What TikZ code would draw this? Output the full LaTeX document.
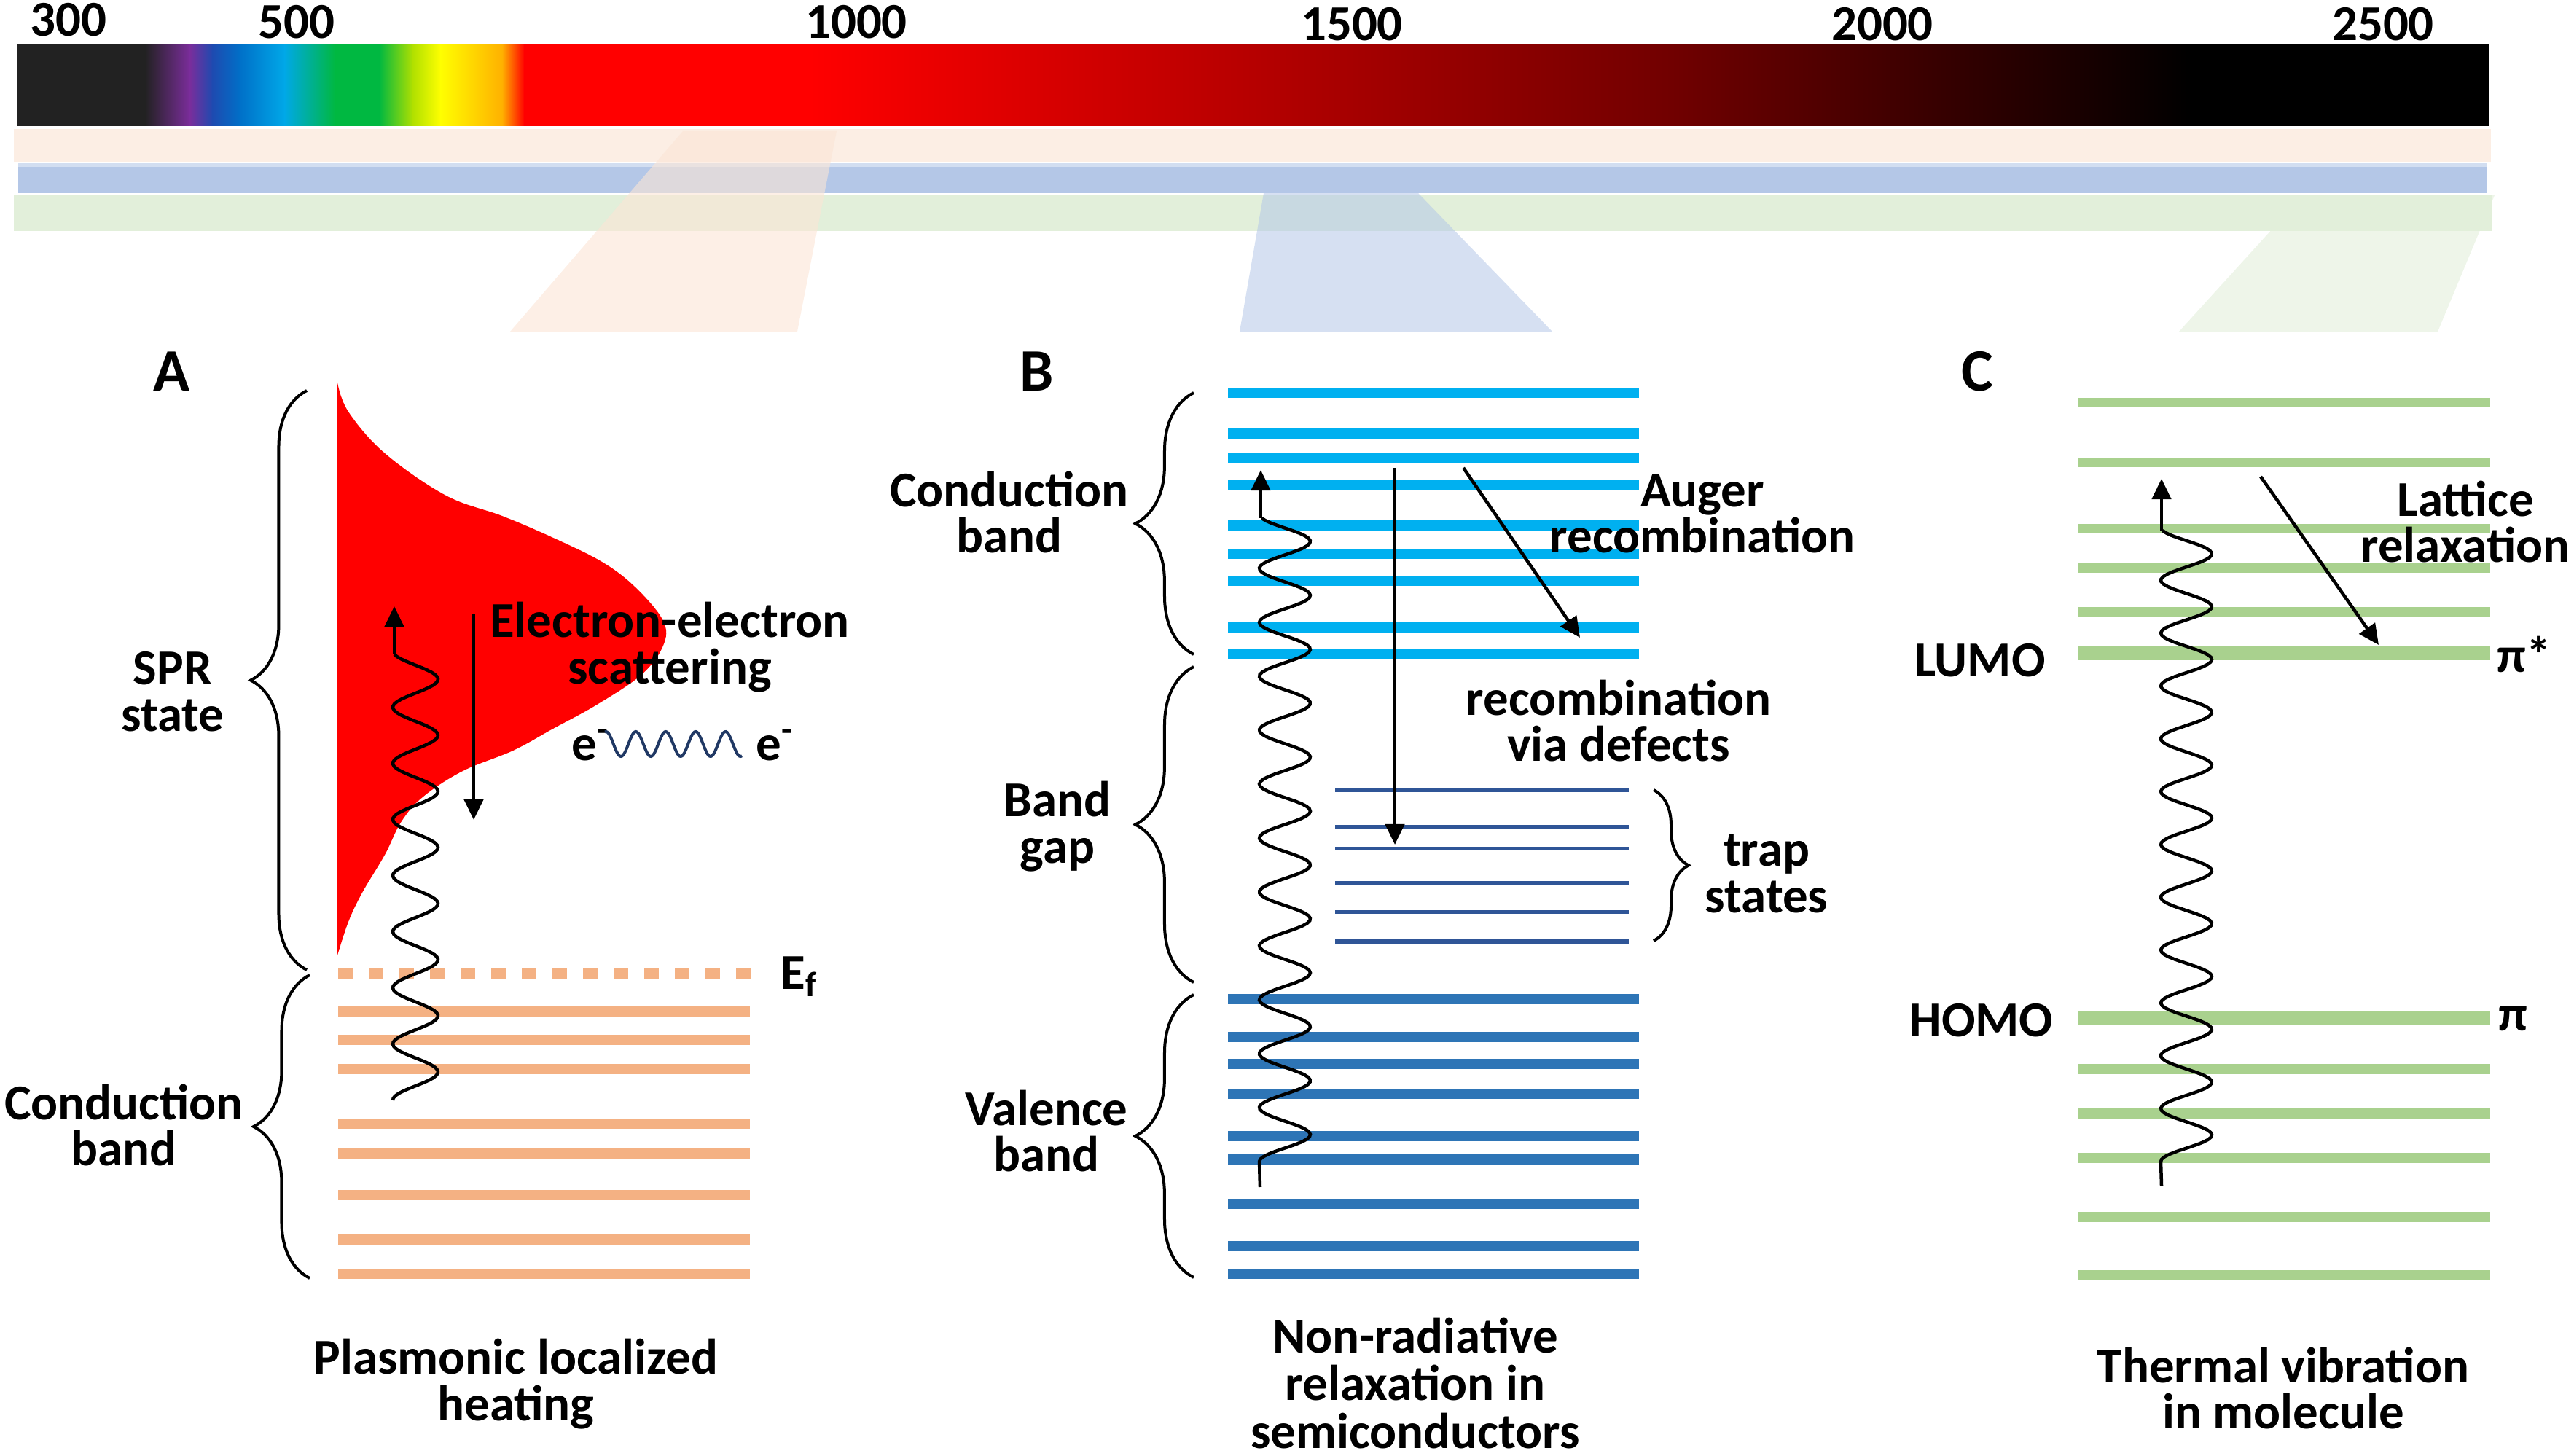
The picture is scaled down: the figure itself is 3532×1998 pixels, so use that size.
\documentclass[tikz,border=0pt]{standalone}
\usepackage{fontspec}
\setmainfont{Carlito}
\usepackage{tikz}
\usetikzlibrary{arrows.meta, decorations.pathreplacing, positioning}

\definecolor{spDark}{HTML}{222222}
\definecolor{spViolet}{HTML}{7B2D9B}
\definecolor{spBlue}{HTML}{1E4AB0}
\definecolor{spBlueB}{HTML}{0070C8}
\definecolor{spCyan}{HTML}{00A8E8}
\definecolor{spGreen}{HTML}{00B841}
\definecolor{spLime}{HTML}{B0E000}
\definecolor{spYellow}{HTML}{FFFF00}
\definecolor{spOrange}{HTML}{FFB000}
\definecolor{spRed}{HTML}{FF0000}
\definecolor{spMaroon}{HTML}{700000}
\definecolor{spBlack}{HTML}{000000}
\definecolor{stripPeach}{HTML}{FCEEE4}
\definecolor{stripBlue}{HTML}{B4C7E7}
\definecolor{stripBlueTop}{HTML}{D2DEF1}
\definecolor{stripGreen}{HTML}{E2EFDA}
\definecolor{fanPeach}{HTML}{FBE5D6}
\definecolor{lvlOrange}{HTML}{F4B183}
\definecolor{lvlCyan}{HTML}{00B0F0}
\definecolor{lvlBlue}{HTML}{2E75B6}
\definecolor{lvlTrap}{HTML}{2F5597}
\definecolor{lvlGreen}{HTML}{A9D18E}
\definecolor{waveNavy}{HTML}{203864}

\tikzset{
  lbl/.style={font=\fontsize{19.6}{18.1}\selectfont\bfseries, align=center, inner sep=0pt},
  tick/.style={font=\fontsize{19.6}{18.1}\selectfont\bfseries, inner sep=0pt},
  panel/.style={font=\fontsize{23.5}{24}\selectfont\bfseries, inner sep=0pt},
  lvl/.style={line width=0.14cm},
  brc/.style={decorate, decoration={brace, amplitude=#1}, line width=0.04cm},
  brc/.default=0.8cm,
  arr/.style={-{Triangle[length=0.28cm, width=0.26cm]}, line width=0.045cm},
  wave/.style={line width=0.045cm},
}

\begin{document}
\begin{tikzpicture}[x=0.01cm, y=-0.01cm]
    \useasboundingbox (0,0) rectangle (3532,1998);

    % 1. Spectrum bar with wavelength ticks
    \foreach \xa/\xb/\ca/\cb in {23/199/spDark/spDark, 199/260/spDark/spViolet,
        260/291/spViolet/spBlue, 291/329/spBlue/spBlueB, 329/390/spBlueB/spCyan,
        390/459/spCyan/spGreen, 459/520/spGreen/spGreen, 520/566/spGreen/spLime,
        566/604/spLime/spYellow, 604/689/spYellow/spOrange, 689/719/spOrange/spRed,
        719/1110/spRed/spRed, 1110/2300/spRed/spMaroon, 2300/3007/spMaroon/spBlack}
      \shade[left color=\ca, right color=\cb] (\xa,61) rectangle (\xb+1,173);
    \fill[spBlack] (3007,61) rectangle (3415,173);

    \node[tick] (nm300)  at (94,27)   {300};
    \node[tick] (nm500)  at (407,30)  {500};
    \node[tick] (nm1000) at (1175,30) {1000};
    \node[tick] (nm1500) at (1855,33) {1500};
    \node[tick] (nm2000) at (2583,33) {2000};
    \node[tick] (nm2500) at (3270,33) {2500};

    % 2. Coloured strips under the bar
    \fill[stripPeach] (19,177) rectangle (3418,222);
    \fill[stripBlue] (25,223) rectangle (3413,265);
    \fill[stripBlueTop] (25,223) rectangle (3413,229);
    \fill[stripGreen] (19,267) rectangle (3420,317);

    % 3. Fans down to the three panels
    \fill[fanPeach, opacity=0.6] (937,180) -- (1148,180) -- (1094,455) -- (700,455) -- cycle;
    \fill[stripBlue, opacity=0.55] (1734,265) -- (1946,265) -- (2130,455) -- (1701,455) -- cycle;
    \fill[stripGreen, opacity=0.6] (3160,268) -- (3423,268) -- (3345,455) -- (2990,455) -- cycle;

    % 4. Panel A: plasmonic heating
    \node[panel] (labA) at (236,510) {A};
    % hot electron distribution
    \fill[spRed] plot[smooth, tension=0.6] coordinates {(463,525) (478,565) (528,622)
        (612,680) (689,708) (757,737) (826,771) (872,806) (910,852) (910,886)
        (880,926) (819,967) (757,1001) (704,1030) (635,1058) (581,1093) (551,1127)
        (528,1173) (497,1225) (478,1265) (463,1311)} -- cycle;
    % Fermi level and band levels
    \draw[lvlOrange, line width=0.16cm, dash pattern=on 0.2cm off 0.22cm] (464,1336) -- (1030,1336);
    \foreach \y in {1388,1427,1467,1542,1583,1640,1701,1748}
      \draw[lvl, lvlOrange] (464,\y) -- (1029,\y);
    \node[anchor=base west, tick] (fermi) at (1071,1357) {E\textsubscript{f}};
    % braces and labels
    \draw[brc=0.77cm] (421,1331) -- (421,536);
    \draw[brc=0.77cm] (425,1754) -- (425,1338);
    \node[lbl] (spr) at (237,949) {SPR\\state};
    \node[lbl] (condA) at (170,1544) {Conduction\\band};
    % excitation and scattering
    \draw[wave] plot[domain=898:1510, samples=200, variable=\t] ({570+31*cos((\t-932)/77*360)}, \t);
    \coordinate (aUp0) at (541,898);
    \coordinate (aUp1) at (541,832);
    \draw[arr] (aUp0) -- (aUp1);
    \coordinate (aDn0) at (650,843);
    \coordinate (aDn1) at (650,1125);
    \draw[arr] (aDn0) -- (aDn1);
    \node[lbl] (eescat) at (919,888) {Electron-electron\\scattering};
    \node[tick, anchor=base west] (elA) at (784,1044) {e\textsuperscript{-}};
    \node[tick, anchor=base west] (elB) at (1037,1044) {e\textsuperscript{-}};
    \draw[waveNavy, line width=0.04cm] plot[domain=830:1018, samples=120, variable=\t] (\t, {1021+17*cos((\t-852)/41*360)});
    \node[lbl] (capA) at (708,1899) {Plasmonic localized\\heating};

    % 5. Panel B: semiconductor
    \node[panel] (labB) at (1423,510) {B};
    \foreach \y in {539,595,629,666,721,760,797,861,898}
      \draw[lvl, lvlCyan] (1685,\y) -- (2249,\y);
    \foreach \y in {1085,1135,1165,1212,1252,1292}
      \draw[lvlTrap, line width=0.05cm] (1832,\y) -- (2235,\y);
    \foreach \y in {1371,1423,1460,1501,1559,1591,1652,1710,1748}
      \draw[lvl, lvlBlue] (1685,\y) -- (2249,\y);
    % braces and labels
    \draw[brc] (1638,898) -- (1638,539);
    \draw[brc] (1638,1348) -- (1638,915);
    \draw[brc] (1638,1753) -- (1638,1365);
    \draw[brc=0.48cm] (2269,1084) -- (2269,1291);
    \node[lbl] (condB) at (1385,703) {Conduction\\band};
    \node[lbl] (gapB) at (1451,1134) {Band\\gap};
    \node[lbl] (valB) at (1436,1552) {Valence\\band};
    \node[lbl] (trapB) at (2424,1199) {trap\\states};
    % transitions
    \draw[wave] plot[domain=711:1594, samples=260, variable=\t] ({1763+35*cos((\t-743)/74*360)}, \t) -- (1729,1629);
    \coordinate (bUp0) at (1730,711);
    \coordinate (bUp1) at (1730,645);
    \draw[arr] (bUp0) -- (bUp1);
    \coordinate (bDn0) at (1914,642);
    \coordinate (bDn1) at (1914,1159);
    \draw[arr] (bDn0) -- (bDn1);
    \coordinate (auger0) at (2008,642);
    \coordinate (auger1) at (2168,875);
    \draw[arr] (auger0) -- (auger1);
    \node[lbl] (augerB) at (2336,705) {Auger\\recombination};
    \node[lbl] (defB) at (2221,989) {recombination\\via defects};
    \node[lbl, font=\fontsize{19.6}{18.6}\selectfont\bfseries] (capB) at (1942,1898) {Non-radiative\\relaxation in\\semiconductors};

    % 6. Panel C: molecule
    \node[panel] (labC) at (2713,510) {C};
    \foreach \y in {553,635,726,780,840,1467,1528,1589,1670,1750}
      \draw[lvlGreen, line width=0.13cm] (2852,\y) -- (3417,\y);
    \draw[lvlGreen, line width=0.2cm] (2852,896) -- (3417,896);
    \draw[lvlGreen, line width=0.2cm] (2852,1397) -- (3417,1397);
    \node[lbl] (lumo) at (2717,906) {LUMO};
    \node[lbl] (homo) at (2719,1400) {HOMO};
    \node[lbl] (pistar) at (3464,898) {π*};
    \node[lbl] (pi) at (3448,1398) {π};
    % transitions
    \draw[wave] plot[domain=728:1594, samples=260, variable=\t] ({3000+35*cos((\t-760)/72.5*360)}, \t) -- (2966,1627);
    \coordinate (cUp0) at (2966,728);
    \coordinate (cUp1) at (2966,657);
    \draw[arr] (cUp0) -- (cUp1);
    \coordinate (latt0) at (3102,654);
    \coordinate (latt1) at (3264,885);
    \draw[arr] (latt0) -- (latt1);
    \node[lbl] (lattC) at (3383,716) {Lattice\\relaxation};
    \node[lbl] (capC) at (3133,1905) {Thermal vibration\\in molecule};

\end{tikzpicture}
\end{document}
